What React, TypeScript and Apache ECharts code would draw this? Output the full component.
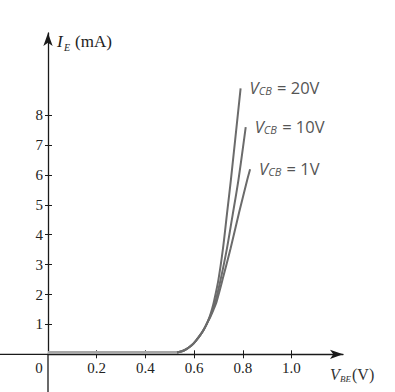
import React, { useEffect, useRef } from "react";
import * as echarts from "echarts";

// Axis ticks
const xTickValues = [0.2, 0.4, 0.6, 0.8, 1.0];
const xLabelValues = [0, 0.2, 0.4, 0.6, 0.8, 1.0];
const yTickValues = [1, 2, 3, 4, 5, 6, 7, 8];

// Cut-off region (all curves together, near zero)
const flatVBE = [0, 0.535];
const flatIE = [0.06, 0.06];

// Shared knee of the three curves
const kneeVBE = [0.53, 0.55, 0.57, 0.59, 0.61, 0.625, 0.64, 0.652];
const kneeIE = [0.06, 0.1, 0.18, 0.3, 0.48, 0.64, 0.83, 1.02];

// V_CB = 20V
const vbe20 = [0.664, 0.674, 0.683, 0.7, 0.718, 0.735, 0.751, 0.791];
const ie20 = [1.26, 1.52, 1.82, 2.5, 3.5, 4.7, 5.83, 8.9];
// V_CB = 10V
const vbe10 = [0.665, 0.677, 0.69, 0.709, 0.734, 0.758, 0.782, 0.812];
const ie10 = [1.25, 1.5, 1.84, 2.5, 3.5, 4.65, 5.83, 7.6];
// V_CB = 1V
const vbe1 = [0.666, 0.679, 0.693, 0.72, 0.75, 0.785, 0.818, 0.83];
const ie1 = [1.24, 1.48, 1.78, 2.6, 3.55, 4.75, 5.83, 6.19];

const seriesNames = ["20V", "10V", "1V"];

const zip = (a: number[], b: number[]) => a.map((v, i) => [v, b[i]]);

const serif = "'Liberation Serif', 'DejaVu Serif', serif";
const sans = "'Open Sans', 'Noto Sans', sans-serif";

export default function App() {
  const ref = useRef<HTMLDivElement>(null);
  useEffect(() => {
    if (!ref.current) return;
    const chart = echarts.init(ref.current, null, { renderer: "svg" });
    const axisColor = "#1a1a1a";
    const curveColor = "#6b6b6b";
    const endLabel = (name: string) => ({
      show: true,
      distance: 9,
      offset: [0, -1],
      formatter: `{v|V}{s|CB}{t| = ${name}}`,
      rich: {
        v: { fontFamily: sans, fontStyle: "italic", fontSize: 16.5, color: "#555" },
        s: { fontFamily: sans, fontStyle: "italic", fontSize: 11, color: "#555", padding: [6, 1, 0, 0] },
        t: { fontFamily: sans, fontSize: 16.5, color: "#555" },
      },
    });
    const xBase = {
      type: "value",
      min: 0,
      max: 1.2115,
      splitLine: { show: false },
    };
    const yBase = {
      type: "value",
      min: 0,
      max: 10.75,
      splitLine: { show: false },
    };
    const knee = zip(kneeVBE, kneeIE);
    chart.setOption({
      animation: false,
      grid: { left: 48, right: 52, top: 33, bottom: 37.7, containLabel: false, outerBoundsMode: "none" },
      xAxis: [
        {
          ...xBase,
          position: "bottom",
          axisLine: {
            onZero: false,
            lineStyle: { color: axisColor, width: 1.3 },
            symbol: ["none", "arrow"],
            symbolSize: [7, 13],
          },
          axisTick: { show: true, inside: false, length: 4, customValues: xTickValues, lineStyle: { color: axisColor } },
          axisLabel: {
            show: true,
            customValues: xLabelValues,
            margin: 6,
            fontFamily: serif,
            fontSize: 15,
            color: "#222",
            formatter: (v: number) => (Math.abs(v) < 1e-9 ? "{o|0}" : v.toFixed(1)),
            rich: { o: { fontFamily: serif, fontSize: 15, color: "#222", padding: [0, 18, 0, 0] } },
          },
        },
        {
          ...xBase,
          position: "top",
          axisLine: { show: false, onZero: true, onZeroAxisIndex: 0 },
          axisTick: { show: true, inside: false, length: 4, customValues: xTickValues, lineStyle: { color: axisColor } },
          axisLabel: { show: false },
        },
      ],
      yAxis: [
        {
          ...yBase,
          position: "left",
          axisLine: {
            onZero: false,
            lineStyle: { color: axisColor, width: 1.3 },
            symbol: ["none", "arrow"],
            symbolSize: [7, 13],
          },
          axisTick: { show: true, inside: false, length: 3, customValues: yTickValues, lineStyle: { color: axisColor } },
          axisLabel: {
            show: true,
            customValues: yTickValues,
            margin: 5,
            fontFamily: serif,
            fontSize: 15,
            color: "#222",
          },
        },
        {
          ...yBase,
          position: "right",
          axisLine: { show: false, onZero: true, onZeroAxisIndex: 0 },
          axisTick: { show: true, inside: false, length: 4, customValues: yTickValues, lineStyle: { color: axisColor } },
          axisLabel: { show: false },
        },
      ],
      series: [
        {
          type: "line",
          data: zip(flatVBE, flatIE),
          showSymbol: false,
          lineStyle: { color: "#a6a6a6", width: 3 },
          z: 3,
        },
        ...[
          zip(vbe20, ie20),
          zip(vbe10, ie10),
          zip(vbe1, ie1),
        ].map((d, i) => ({
          type: "line",
          name: seriesNames[i],
          data: knee.concat(d),
          smooth: 0.3,
          showSymbol: false,
          lineStyle: { color: curveColor, width: 2 },
          endLabel: endLabel(seriesNames[i]),
          z: 4,
        })),
      ],
      graphic: [
        // axis extensions past the origin
        { type: "line", shape: { x1: 0, y1: 354.3, x2: 48, y2: 354.3 }, style: { stroke: axisColor, lineWidth: 1.3 } },
        { type: "line", shape: { x1: 48, y1: 354.3, x2: 48, y2: 392 }, style: { stroke: axisColor, lineWidth: 1.3 } },
        { type: "text", x: 57, y: 33, style: { text: "I", fontFamily: serif, fontStyle: "italic", fontSize: 17, fill: "#222" } },
        { type: "text", x: 64, y: 42, style: { text: "E", fontFamily: serif, fontStyle: "italic", fontSize: 10, fill: "#222" } },
        { type: "text", x: 75, y: 33, style: { text: "(mA)", fontFamily: serif, fontSize: 17, fill: "#222" } },
        { type: "text", x: 330, y: 366, style: { text: "V", fontFamily: serif, fontStyle: "italic", fontSize: 16, fill: "#333" } },
        { type: "text", x: 340, y: 374, style: { text: "BE", fontFamily: serif, fontStyle: "italic", fontSize: 9, fill: "#333" } },
        { type: "text", x: 352, y: 366, style: { text: "(V)", fontFamily: serif, fontSize: 16, fill: "#333" } },
      ],
    });
    return () => chart.dispose();
  }, []);
  return (
    <div
      ref={ref}
      style={{ position: "fixed", left: 0, top: 0, width: 395, height: 392, background: "#fff" }}
    />
  );
}
